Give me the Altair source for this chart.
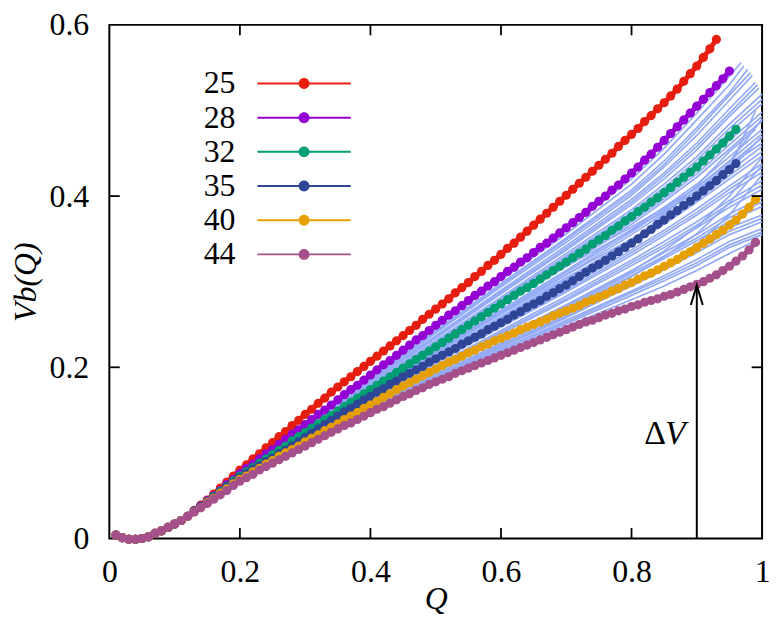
import altair as alt
import pandas as pd

# ---------------- data ----------------
SERIES = ["25", "28", "32", "35", "40", "44"]
COLORS = ["#e51e10", "#9400d3", "#009e73", "#2f4596", "#e69f00", "#a5508a"]
BUNDLE_COLOR = "#93aaf6"

# V_b(Q) of each highlighted series, sampled at Q = 0.01, 0.02, ...
v25 = [0.004, 0.001, -0.001, -0.001, 0.000, 0.002, 0.006, 0.009, 0.013, 0.017,
       0.021, 0.026, 0.033, 0.039, 0.045, 0.052, 0.059, 0.066, 0.073, 0.080,
       0.086, 0.093, 0.099, 0.106, 0.112, 0.119, 0.125, 0.132, 0.138, 0.145,
       0.151, 0.158, 0.164, 0.171, 0.177, 0.183, 0.189, 0.195, 0.201, 0.207,
       0.213, 0.219, 0.225, 0.231, 0.237, 0.243, 0.249, 0.256, 0.262, 0.268,
       0.274, 0.280, 0.287, 0.293, 0.299, 0.306, 0.312, 0.319, 0.325, 0.332,
       0.339, 0.345, 0.352, 0.359, 0.366, 0.373, 0.380, 0.387, 0.394, 0.401,
       0.408, 0.415, 0.422, 0.429, 0.436, 0.443, 0.450, 0.458, 0.465, 0.472,
       0.479, 0.487, 0.494, 0.502, 0.509, 0.517, 0.525, 0.534, 0.543, 0.552,
       0.562, 0.572, 0.583]
v28 = [0.004, 0.001, -0.001, -0.001, 0.000, 0.002, 0.006, 0.009, 0.013, 0.017,
       0.021, 0.026, 0.032, 0.038, 0.044, 0.050, 0.056, 0.063, 0.069, 0.076,
       0.082, 0.087, 0.093, 0.099, 0.104, 0.110, 0.116, 0.122, 0.127, 0.133,
       0.139, 0.145, 0.150, 0.156, 0.162, 0.168, 0.174, 0.179, 0.185, 0.191,
       0.197, 0.203, 0.208, 0.214, 0.220, 0.226, 0.232, 0.237, 0.243, 0.249,
       0.255, 0.261, 0.266, 0.272, 0.278, 0.284, 0.289, 0.295, 0.300, 0.306,
       0.312, 0.317, 0.323, 0.328, 0.334, 0.340, 0.345, 0.351, 0.357, 0.363,
       0.369, 0.375, 0.381, 0.388, 0.394, 0.400, 0.407, 0.413, 0.420, 0.427,
       0.434, 0.442, 0.449, 0.457, 0.465, 0.473, 0.481, 0.489, 0.497, 0.505,
       0.513, 0.521, 0.529, 0.537, 0.546]
v32 = [0.004, 0.001, -0.001, -0.001, 0.000, 0.002, 0.006, 0.009, 0.013, 0.017,
       0.021, 0.026, 0.032, 0.037, 0.043, 0.049, 0.055, 0.061, 0.067, 0.073,
       0.078, 0.083, 0.088, 0.093, 0.098, 0.103, 0.108, 0.114, 0.119, 0.124,
       0.129, 0.134, 0.139, 0.144, 0.149, 0.154, 0.159, 0.164, 0.169, 0.174,
       0.179, 0.184, 0.189, 0.194, 0.199, 0.204, 0.209, 0.214, 0.219, 0.224,
       0.229, 0.234, 0.239, 0.244, 0.249, 0.254, 0.259, 0.264, 0.269, 0.274,
       0.279, 0.284, 0.289, 0.293, 0.298, 0.303, 0.308, 0.313, 0.318, 0.323,
       0.328, 0.333, 0.338, 0.344, 0.349, 0.354, 0.360, 0.365, 0.371, 0.376,
       0.382, 0.387, 0.393, 0.398, 0.404, 0.410, 0.416, 0.422, 0.428, 0.434,
       0.441, 0.448, 0.455, 0.462, 0.470, 0.478]
v35 = [0.004, 0.001, -0.001, -0.001, 0.000, 0.002, 0.006, 0.009, 0.013, 0.017,
       0.021, 0.026, 0.032, 0.037, 0.042, 0.048, 0.054, 0.060, 0.065, 0.071,
       0.076, 0.081, 0.085, 0.090, 0.094, 0.099, 0.103, 0.108, 0.113, 0.118,
       0.123, 0.128, 0.133, 0.138, 0.143, 0.148, 0.152, 0.157, 0.162, 0.166,
       0.171, 0.175, 0.180, 0.184, 0.189, 0.193, 0.197, 0.201, 0.206, 0.210,
       0.214, 0.218, 0.222, 0.227, 0.231, 0.235, 0.239, 0.244, 0.248, 0.252,
       0.256, 0.261, 0.265, 0.270, 0.274, 0.278, 0.283, 0.287, 0.292, 0.296,
       0.301, 0.306, 0.311, 0.316, 0.320, 0.325, 0.330, 0.335, 0.340, 0.345,
       0.350, 0.356, 0.361, 0.367, 0.372, 0.378, 0.383, 0.389, 0.394, 0.400,
       0.406, 0.412, 0.418, 0.425, 0.431, 0.438]
v40 = [0.004, 0.001, -0.001, -0.001, 0.000, 0.002, 0.006, 0.009, 0.013, 0.017,
       0.021, 0.026, 0.031, 0.036, 0.042, 0.047, 0.053, 0.058, 0.064, 0.069,
       0.073, 0.078, 0.082, 0.087, 0.091, 0.096, 0.100, 0.104, 0.108, 0.113,
       0.117, 0.121, 0.126, 0.130, 0.134, 0.139, 0.143, 0.147, 0.152, 0.156,
       0.160, 0.165, 0.169, 0.174, 0.178, 0.182, 0.186, 0.190, 0.194, 0.198,
       0.202, 0.206, 0.209, 0.213, 0.217, 0.220, 0.224, 0.227, 0.231, 0.234,
       0.237, 0.240, 0.244, 0.247, 0.250, 0.253, 0.256, 0.260, 0.263, 0.266,
       0.269, 0.272, 0.276, 0.279, 0.282, 0.285, 0.289, 0.292, 0.296, 0.299,
       0.303, 0.307, 0.310, 0.314, 0.318, 0.322, 0.326, 0.331, 0.335, 0.340,
       0.345, 0.350, 0.355, 0.360, 0.366, 0.372, 0.379, 0.387, 0.396]
v44 = [0.004, 0.001, -0.001, -0.001, 0.000, 0.002, 0.006, 0.009, 0.013, 0.017,
       0.021, 0.026, 0.031, 0.036, 0.041, 0.046, 0.051, 0.056, 0.062, 0.067,
       0.071, 0.075, 0.080, 0.084, 0.088, 0.092, 0.096, 0.100, 0.104, 0.108,
       0.112, 0.116, 0.120, 0.124, 0.128, 0.132, 0.135, 0.139, 0.143, 0.147,
       0.151, 0.154, 0.158, 0.162, 0.166, 0.169, 0.173, 0.176, 0.180, 0.183,
       0.186, 0.189, 0.193, 0.196, 0.199, 0.202, 0.205, 0.208, 0.211, 0.214,
       0.217, 0.220, 0.223, 0.226, 0.229, 0.232, 0.235, 0.238, 0.241, 0.244,
       0.247, 0.250, 0.253, 0.255, 0.258, 0.261, 0.263, 0.266, 0.268, 0.271,
       0.273, 0.276, 0.278, 0.280, 0.283, 0.285, 0.288, 0.291, 0.294, 0.297,
       0.300, 0.304, 0.308, 0.313, 0.318, 0.324, 0.330, 0.337, 0.346]
SERIES_VALUES = [v25, v28, v32, v35, v40, v44]

# thin light-blue bundle of curves: values at BUNDLE_Q, then (end Q, end V)
BUNDLE_Q = [0.1, 0.2, 0.3, 0.4, 0.5, 0.6, 0.7, 0.8, 0.85, 0.9, 0.95]
BUNDLE_START = 0.017
BUNDLE = [
    ([.076, .133, .190, .248, .305, .360, .420, .456, .497, .540], (0.968, .556)),
    ([.076, .132, .189, .246, .302, .356, .414, .449, .489, .530], (0.972, .552)),
    ([.075, .131, .187, .243, .298, .351, .407, .441, .480, .521], (0.978, .548)),
    ([.075, .130, .186, .241, .296, .349, .404, .437, .476, .518], (0.982, .544)),
    ([.075, .130, .185, .240, .294, .346, .401, .434, .471, .512], (0.985, .541)),
    ([.075, .129, .184, .237, .290, .342, .396, .427, .462, .502], (0.990, .533)),
    ([.074, .128, .183, .236, .288, .339, .393, .424, .458, .497], (0.993, .530)),
    ([.074, .128, .182, .234, .286, .337, .390, .420, .454, .493], (0.995, .526)),
    ([.074, .127, .180, .231, .282, .333, .384, .414, .446, .484], (1.0, .519)),
    ([.074, .126, .179, .230, .280, .330, .381, .410, .442, .479], (1.0, .513)),
    ([.074, .126, .178, .228, .278, .328, .379, .407, .438, .474], (1.0, .508)),
    ([.073, .125, .176, .226, .275, .323, .373, .400, .430, .465], (1.0, .498)),
    ([.073, .125, .175, .224, .273, .320, .370, .397, .426, .460], (1.0, .493)),
    ([.073, .124, .174, .223, .271, .318, .367, .394, .422, .455], (1.0, .488)),
    ([.073, .123, .172, .220, .267, .313, .361, .387, .414, .446], (1.0, .478)),
    ([.072, .122, .171, .218, .265, .311, .358, .384, .410, .441], (1.0, .473)),
    ([.072, .122, .170, .217, .263, .308, .355, .380, .407, .437], (1.0, .468)),
    ([.072, .121, .168, .214, .259, .303, .349, .374, .400, .429], (1.0, .458)),
    ([.072, .120, .167, .212, .257, .300, .346, .370, .396, .424], (1.0, .452)),
    ([.072, .120, .166, .211, .255, .298, .343, .367, .393, .420], (1.0, .447)),
    ([.071, .119, .164, .208, .251, .293, .337, .360, .385, .412], (1.0, .438)),
    ([.071, .118, .163, .206, .249, .290, .334, .357, .381, .408], (1.0, .433)),
    ([.071, .118, .162, .205, .247, .288, .331, .354, .378, .404], (1.0, .428)),
    ([.071, .117, .160, .202, .243, .283, .325, .347, .370, .395], (1.0, .418)),
    ([.070, .116, .159, .200, .241, .280, .322, .343, .366, .391], (1.0, .413)),
    ([.070, .116, .158, .199, .239, .278, .319, .340, .363, .387], (1.0, .408)),
    ([.070, .115, .157, .197, .235, .273, .313, .334, .355, .379], (1.0, .398)),
    ([.070, .114, .156, .195, .233, .270, .310, .330, .351, .375], (1.0, .393)),
    ([.070, .114, .155, .194, .232, .268, .307, .327, .348, .371], (1.0, .388)),
    ([.069, .113, .153, .192, .228, .264, .301, .320, .341, .363], (1.0, .378)),
    ([.069, .112, .152, .190, .226, .261, .298, .317, .337, .359], (1.0, .374)),
    ([.069, .112, .152, .189, .225, .259, .295, .314, .334, .355], (1.0, .370)),
    ([.069, .111, .150, .187, .221, .255, .289, .307, .326, .347], (1.0, .362)),
    ([.068, .110, .149, .186, .220, .253, .287, .304, .322, .343], (1.0, .358)),
    ([.068, .110, .149, .185, .218, .251, .284, .301, .319, .340], (1.0, .355)),
    ([.068, .109, .148, .183, .216, .248, .279, .295, .313, .333], (0.995, .350)),
    ([.070, .116, .158, .198, .236, .272, .312, .336, .364, .400], (1.0, .445)),
    ([.073, .124, .173, .220, .265, .308, .350, .372, .398, .432], (0.990, .500)),
    ([.069, .112, .151, .188, .223, .258, .296, .318, .344, .378], (1.0, .425)),
    ([.074, .127, .179, .229, .277, .322, .364, .386, .410, .440], (1.0, .490)),
    ([.072, .121, .169, .216, .262, .305, .345, .368, .395, .430], (1.0, .470)),
    ([.071, .119, .166, .212, .257, .302, .348, .378, .412, .452], (0.990, .478)),
    ([.073, .125, .176, .226, .274, .318, .360, .382, .405, .436], (1.0, .462)),
    ([.070, .113, .153, .191, .228, .266, .306, .329, .356, .392], (1.0, .436)),
]

XTICKS = [0, 0.2, 0.4, 0.6, 0.8, 1]
YTICKS = [0, 0.2, 0.4, 0.6]
INNER_XTICKS = [0.2, 0.4, 0.6, 0.8]
INNER_YTICKS = [0.2, 0.4]

ARROW_Q = [0.9]
ARROW_FROM = [0.0]
ARROW_TO = [0.296]
DELTA_TEXT = ["Δ"]
DELTA_Q = [0.8527]
V_TEXT = ["V"]
V_Q = [0.883]
LABEL_V = [0.1102]

# ---------------- tables ----------------
rows = []
for name, vals in zip(SERIES, SERIES_VALUES):
    for i, v in enumerate(vals):
        rows.append({"series": name, "line": "s" + name,
                     "q": round((i + 1) / 100, 2), "v": v})
main = pd.DataFrame(rows)

brows = []
for k, (vals, (eq, ev)) in enumerate(BUNDLE):
    qs = BUNDLE_Q + [eq]
    vs = [BUNDLE_START] + vals + [ev]
    for q, v in zip(qs, vs):
        brows.append({"curve": k, "q": q, "v": v})
bundle_df = pd.DataFrame(brows)

FONT = "Liberation Serif"
xs = alt.Scale(domain=[0, 1], nice=False, zero=False)
ys = alt.Scale(domain=[0, 0.6], nice=False, zero=False)
xaxis = alt.Axis(values=XTICKS, format="~g", title="Q", labelPadding=18,
                 titleY=70, titleBaseline="alphabetic", labelFlush=False,
                 labelOverlap=False)
yaxis = alt.Axis(values=YTICKS, format="~g", title="Vb(Q)", labelPadding=20.7,
                 titleX=-74, titleY=258.5, titleAngle=270,
                 titleBaseline="alphabetic", titleAlign="center",
                 labelFlush=False, labelOverlap=False)


def X(f):
    return alt.X(f"{f}:Q", scale=xs, axis=xaxis)


def Y(f):
    return alt.Y(f"{f}:Q", scale=ys, axis=yaxis)


# legend glyph: a line with a dot, drawn beyond the unit box so the row stays short
LEG_PATH = ("M-4.7,-0.1H4.7V0.1H-4.7Z"
            "M0.55,0A0.55,0.55,0,1,1,-0.55,0A0.55,0.55,0,1,1,0.55,0Z")

bundle = alt.Chart(bundle_df).mark_line(color=BUNDLE_COLOR, strokeWidth=1.7).encode(
    x=X("q"), y=Y("v"), detail="curve:N")

lines = alt.Chart(main).mark_line(strokeWidth=5).encode(
    x=X("q"), y=Y("v"),
    stroke=alt.Stroke("line:N",
                      scale=alt.Scale(domain=["s" + s for s in SERIES], range=COLORS),
                      legend=None))

points = alt.Chart(main).mark_point(filled=True, size=85, opacity=1).encode(
    x=X("q"), y=Y("v"),
    color=alt.Color(
        "series:N", scale=alt.Scale(domain=SERIES, range=COLORS),
        legend=alt.Legend(
            title=None, orient="none", legendX=180, legendY=43, padding=0,
            symbolType=LEG_PATH, symbolSize=400, symbolStrokeWidth=0,
            symbolOpacity=1, labelFont=FONT, labelFontSize=32,
            labelColor="black", labelAlign="right",
            labelOffset={"expr": "-85"}, rowPadding=2.4)))

xt = pd.DataFrame({"q": INNER_XTICKS})
yt = pd.DataFrame({"v": INNER_YTICKS})
tick_style = dict(color="black", strokeWidth=1.8)
t_bottom = alt.Chart(xt).mark_rule(**tick_style).encode(
    x=X("q"), y=alt.value(517), y2=alt.value(506.5))
t_top = alt.Chart(xt).mark_rule(**tick_style).encode(
    x=X("q"), y=alt.value(0), y2=alt.value(10.5))
t_left = alt.Chart(yt).mark_rule(**tick_style).encode(
    y=Y("v"), x=alt.value(0), x2=alt.value(10.5))
t_right = alt.Chart(yt).mark_rule(**tick_style).encode(
    y=Y("v"), x=alt.value(657), x2=alt.value(646.5))

adf = pd.DataFrame({"q": ARROW_Q, "v0": ARROW_FROM, "v1": ARROW_TO})
shaft = alt.Chart(adf).mark_rule(color="black", strokeWidth=2).encode(
    x=X("q"), y=Y("v0"), y2=alt.Y2("v1"))
head = alt.Chart(adf).mark_point(shape="M-0.3,1L0,0L0.3,1", size=1600,
                                 filled=False, color="black", strokeWidth=2,
                                 opacity=1).encode(x=X("q"), y=Y("v1"))

ddf = pd.DataFrame({"q": DELTA_Q, "v": LABEL_V, "t": DELTA_TEXT})
vdf = pd.DataFrame({"q": V_Q, "v": LABEL_V, "t": V_TEXT})
delta = alt.Chart(ddf).mark_text(font=FONT, fontSize=34, align="right",
                                 baseline="alphabetic", color="black").encode(
    x=X("q"), y=Y("v"), text="t:N")
vlab = alt.Chart(vdf).mark_text(font=FONT, fontSize=34, fontStyle="italic",
                                align="right", baseline="alphabetic",
                                color="black").encode(
    x=X("q"), y=Y("v"), text="t:N")

chart = alt.layer(
    bundle, lines, points, t_bottom, t_top, t_left, t_right,
    shaft, head, delta, vlab
).properties(
    width=657, height=517,
    autosize=alt.AutoSizeParams(type="none"),
    padding={"left": 102, "top": 15, "right": 12, "bottom": 76},
    background="white",
).configure_view(
    stroke="black", strokeWidth=2
).configure_axis(
    domain=False, ticks=False, tickSize=0, grid=False,
    labelFont=FONT, labelFontSize=32, labelColor="black",
    titleFont=FONT, titleFontSize=32, titleFontStyle="italic",
    titleFontWeight="normal", titleColor="black",
)

chart.save("out.html", embed_options={"renderer": "svg", "actions": False})
